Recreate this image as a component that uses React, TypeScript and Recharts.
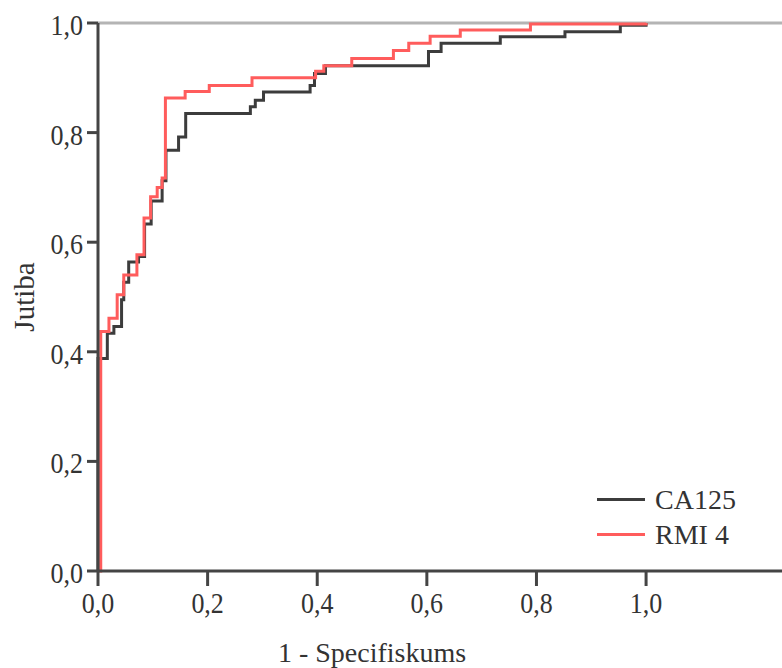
import React from 'react';
import { LineChart, Line, XAxis, YAxis, ReferenceLine, Legend } from 'recharts';

// ROC steps: [1 - specificity, sensitivity] at the top of each vertical jump
const ca125Fpr = [0, 0, 0.017, 0.029, 0.043, 0.047, 0.056, 0.074, 0.085, 0.097, 0.117, 0.124, 0.147, 0.16, 0.278, 0.287, 0.302, 0.387, 0.395, 0.415, 0.603, 0.626, 0.734, 0.852, 0.953, 1.0];
const ca125Tpr = [0, 0.388, 0.434, 0.446, 0.495, 0.527, 0.564, 0.574, 0.633, 0.675, 0.712, 0.768, 0.792, 0.835, 0.847, 0.859, 0.874, 0.886, 0.908, 0.922, 0.948, 0.963, 0.975, 0.984, 0.996, 1.0];

const rmiFpr = [0, 0.005, 0.02, 0.035, 0.047, 0.071, 0.084, 0.096, 0.108, 0.117, 0.123, 0.159, 0.203, 0.281, 0.397, 0.412, 0.463, 0.539, 0.567, 0.606, 0.661, 0.789, 1.0];
const rmiTpr = [0, 0.437, 0.461, 0.504, 0.54, 0.577, 0.644, 0.683, 0.7, 0.717, 0.863, 0.875, 0.886, 0.9, 0.912, 0.922, 0.935, 0.95, 0.963, 0.976, 0.987, 0.998, 1.0];

const axisTicks = [0, 0.2, 0.4, 0.6, 0.8, 1.0];

const ca125 = ca125Fpr.map((x, i) => ({ x, y: ca125Tpr[i] }));
const rmi = rmiFpr.map((x, i) => ({ x, y: rmiTpr[i] }));

const font = '"Liberation Serif", "Times New Roman", serif';
const ink = '#333';
const fmt = (v: number) => v.toFixed(1).replace('.', ',');

// scanned labels look a bit stretched vertically
const XTick = ({ x, y, payload }: any) => (
  <g transform={`translate(${x},${y})`}>
    <text textAnchor="middle" y={23.5} fill={ink} fontSize={26} fontFamily={font} transform="scale(1,1.15)">
      {fmt(payload.value)}
    </text>
  </g>
);

const YTick = ({ x, y, payload }: any) => (
  <g transform={`translate(${x},${y})`}>
    <text textAnchor="end" y={10.4} fill={ink} fontSize={26} fontFamily={font} transform="scale(1,1.15)">
      {fmt(payload.value)}
    </text>
  </g>
);

const renderLegend = (props: any) => (
  <div>
    {props.payload.map((entry: any) => (
      <div key={entry.value} style={{ display: 'flex', alignItems: 'center', height: 35 }}>
        <span style={{ display: 'inline-block', width: 48, height: 3, background: entry.color }} />
        <span style={{ fontFamily: font, fontSize: 28, color: ink, marginLeft: 10, lineHeight: '35px' }}>{entry.value}</span>
      </div>
    ))}
  </div>
);

export default function App() {
  return (
    <div style={{ position: 'absolute', left: 0, top: 0, width: 782, height: 668, background: '#fff' }}>
      <LineChart width={782} height={668} margin={{ top: 23, right: 0, bottom: 0, left: 0 }}>
        <XAxis
          type="number"
          dataKey="x"
          domain={[0, 1.248]}
          ticks={axisTicks}
          height={97}
          tickSize={15}
          tickMargin={0}
          axisLine={{ stroke: '#444', strokeWidth: 3 }}
          tickLine={{ stroke: '#444', strokeWidth: 3 }}
          tick={<XTick />}
          label={{ value: '1 - Specifiskums', position: 'insideBottom', offset: 6, dx: -68, fill: ink, fontSize: 28, fontFamily: font }}
        />
        <YAxis
          type="number"
          domain={[0, 1]}
          ticks={axisTicks}
          width={98}
          tickSize={11}
          tickMargin={4}
          axisLine={{ stroke: '#444', strokeWidth: 3 }}
          tickLine={{ stroke: '#444', strokeWidth: 3 }}
          tick={<YTick />}
          label={{ value: 'Jutiba', angle: -90, position: 'insideLeft', offset: 24, fill: ink, fontSize: 29, fontFamily: font, style: { textAnchor: 'middle' } }}
        />
        <ReferenceLine y={1} stroke="#b4b4b4" strokeWidth={3} />
        <Line data={ca125} dataKey="y" name="CA125" type="stepAfter" stroke="#3c3c3c" strokeWidth={3} dot={false} isAnimationActive={false} />
        <Line data={rmi} dataKey="y" name="RMI 4" type="stepAfter" stroke="#ff5c5c" strokeWidth={3} dot={false} isAnimationActive={false} />
        <Legend
          content={renderLegend}
          layout="horizontal"
          verticalAlign="middle"
          align="center"
          wrapperStyle={{ position: 'absolute', left: 597, top: 482, width: 'auto' }}
        />
      </LineChart>
    </div>
  );
}
